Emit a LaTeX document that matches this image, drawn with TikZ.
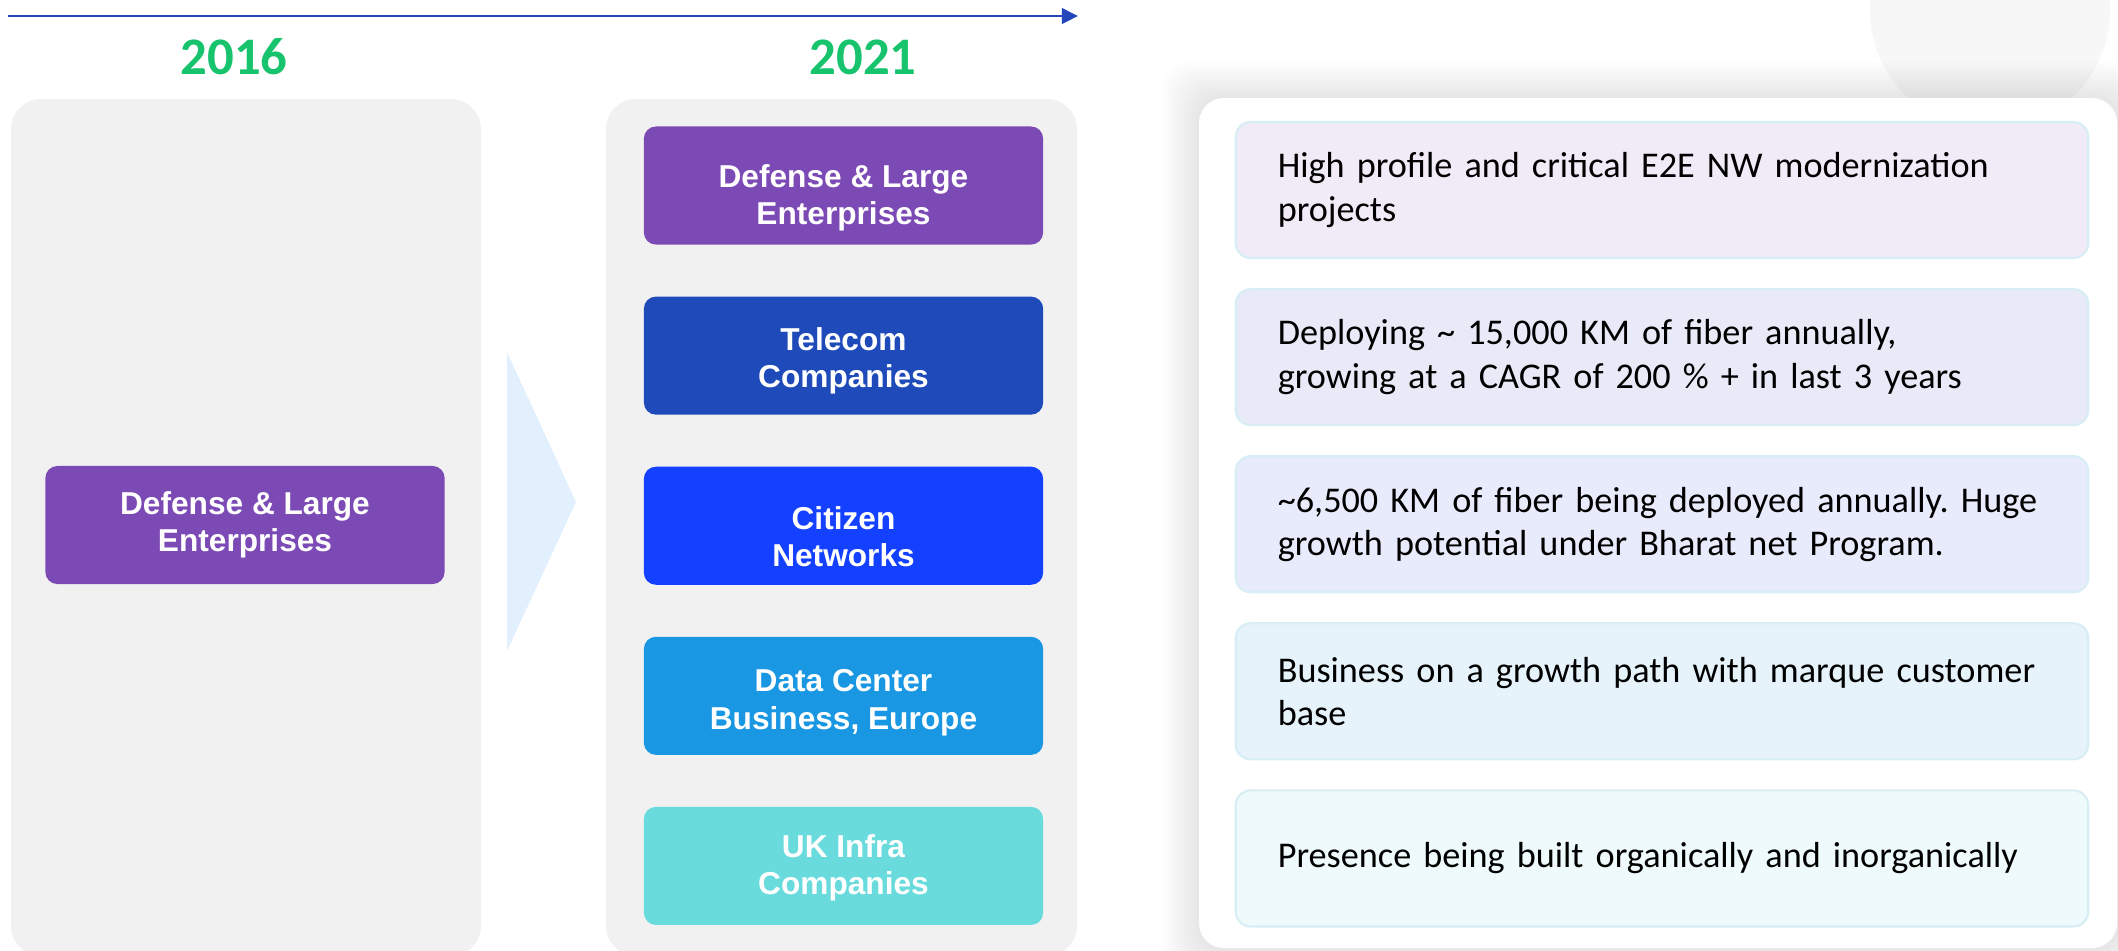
\documentclass[tikz,border=0pt]{standalone}
\usepackage{fontspec}
\setmainfont{Carlito}
\newfontfamily\boxfont{Liberation Sans}
\usetikzlibrary{positioning, arrows.meta}
\frenchspacing

\definecolor{yeargreen}{HTML}{17C36C}
\definecolor{lineblue}{HTML}{2346B9}
\definecolor{panelgray}{HTML}{F1F1F1}
\definecolor{blobgray}{HTML}{F7F7F7}
\definecolor{chevblue}{HTML}{E1F0FC}
\definecolor{segpurple}{HTML}{7C4AB5}
\definecolor{segtelco}{HTML}{1E4BB9}
\definecolor{segcitizen}{HTML}{1440FF}
\definecolor{segdata}{HTML}{1A97E2}
\definecolor{seguk}{HTML}{69DBDC}
\definecolor{noteedge}{HTML}{D6EEF4}
\definecolor{noteA}{HTML}{F1EBF8}
\definecolor{noteB}{HTML}{E8EBF7}
\definecolor{noteC}{HTML}{E7EBFB}
\definecolor{noteD}{HTML}{E7F3FB}
\definecolor{noteE}{HTML}{EEFAFB}

\tikzset{
    panel/.style={fill=panelgray, rounded corners=0.3cm},
    seg/.style={rectangle, rounded corners=0.12cm, minimum width=3.99cm,
        minimum height=1.18cm, outer sep=0pt},
    segtext/.style={text=white, align=center,
        font=\boxfont\bfseries\fontsize{9}{10.6}\selectfont},
    note/.style={rectangle, rounded corners=0.15cm, draw=noteedge, line width=0.6pt,
        minimum height=1.36cm, text width=7.68cm, inner xsep=0.42cm, align=left,
        outer sep=0pt, font=\fontsize{10.3}{12.3}\selectfont},
    year/.style={text=yeargreen, font=\bfseries\fontsize{15}{18}\selectfont}
}

\begin{document}
\begin{tikzpicture}[x=0.01cm, y=-0.01cm]
    \useasboundingbox (0,0) rectangle (2118,950);

    % backgrounds
    \fill[blobgray] (1990,10) circle (1.2cm);
    \fill[panel] (11,99) rectangle (481,956);
    \fill[panel] (606,99) rectangle (1077,956);
    \foreach \s in {1,...,12}
        \fill[black, opacity=0.009, rounded corners=0.25cm]
            (1199-3*\s,98-3*\s) rectangle (2117+3*\s,948+3*\s);
    \fill[white, rounded corners=0.25cm] (1199,98) rectangle (2117,948);
    \fill[chevblue] (507,352) -- (576,502) -- (507,651) -- cycle;

    % time line
    \coordinate (t0) at (8,16);
    \coordinate (t1) at (1078,16);
    \draw[lineblue, line width=0.8pt, -{Triangle[length=4.6pt, width=4.4pt]}] (t0) -- (t1);
    \node[year] (y16) at (234,57) {2016};
    \node[year] (y21) at (863,57) {2021};

    % segments
    \node[seg, fill=segpurple, label={[segtext]center:{Defense \& Large\\Enterprises}}]
        (dle16) at (245,525) {};

    \node[seg, fill=segpurple, label={[segtext, yshift=-0.12cm]center:{Defense \& Large\\Enterprises}}]
        (dle21) at (843.5,185.5) {};
    \node[seg, fill=segtelco, below=0.52cm of dle21,
        label={[segtext, yshift=-0.05cm]center:{Telecom\\Companies}}] (telco) {};
    \node[seg, fill=segcitizen, below=0.52cm of telco,
        label={[segtext, yshift=-0.11cm]center:{Citizen\\Networks}}] (citizen) {};
    \node[seg, fill=segdata, below=0.52cm of citizen,
        label={[segtext, yshift=-0.07cm]center:{Data Center\\Business, Europe}}] (datactr) {};
    \node[seg, fill=seguk, below=0.52cm of datactr,
        label={[segtext, yshift=-0.02cm]center:{UK Infra\\Companies}}] (ukinfra) {};

    % notes
    \node[note, fill=noteA] (n1) at (1662,190)
        {High profile and critical E2E NW modernization\\projects};
    \node[note, fill=noteB, below=0.31cm of n1] (n2)
        {Deploying \textasciitilde{} 15,000 KM of fiber annually,\\growing at a CAGR of 200 \% + in last 3 years};
    \node[note, fill=noteC, below=0.31cm of n2] (n3)
        {\textasciitilde 6,500 KM of fiber being deployed annually. Huge\\growth potential under Bharat net Program.};
    \node[note, fill=noteD, below=0.31cm of n3] (n4)
        {Business on a growth path with marque customer\\base};
    \node[note, fill=noteE, below=0.31cm of n4] (n5)
        {Presence being built organically and inorganically};
\end{tikzpicture}
\end{document}
